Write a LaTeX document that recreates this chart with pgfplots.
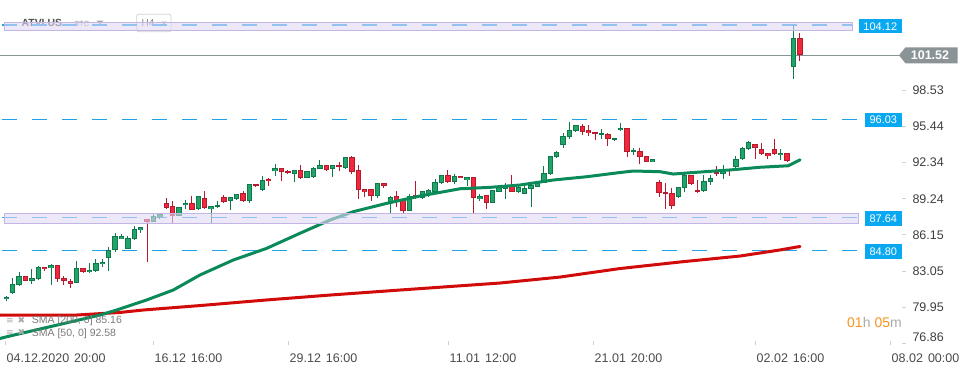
\documentclass[border=0pt]{standalone}
\usepackage{pgfplots}
\pgfplotsset{compat=1.18}
\usepackage{pgfplotstable}
\usepackage{fontspec}
\setmainfont{Liberation Sans}
\newfontfamily\dejavu{DejaVu Sans}
\definecolor{upfill}{HTML}{22A369}
\definecolor{upline}{HTML}{0E7A4C}
\definecolor{dnfill}{HTML}{F0283C}
\definecolor{dnline}{HTML}{B51B2E}
\definecolor{smagreen}{HTML}{0A8A58}
\definecolor{smared}{HTML}{D10A0A}
\definecolor{dashblue}{HTML}{1EA2EA}
\definecolor{lblue}{HTML}{0AA8F0}
\definecolor{zonefill}{HTML}{E0D8F3}
\definecolor{zoneline}{HTML}{C4B6E4}
\definecolor{pricegray}{HTML}{8A9497}
\definecolor{ticktext}{HTML}{3F3F3F}
\definecolor{xtext}{HTML}{4A4A4A}
\definecolor{tickgray}{HTML}{D0D0D0}
\definecolor{cdorange}{HTML}{F7941D}
\definecolor{cdgray}{HTML}{AAAAAA}
\definecolor{legtext}{HTML}{7A7A7A}

% rising candles: n open high low close
\pgfplotstableread{
n o h l c
1 80.64 80.94 80.52 80.86
2 81.20 82.46 81.09 81.92
3 81.83 82.97 81.77 82.63
5 82.23 83.23 81.95 82.46
6 82.35 83.51 82.33 83.38
8 83.29 83.63 81.86 83.55
12 82.06 83.91 82.01 83.32
14 82.95 83.74 82.86 83.14
15 83.03 84.09 83.01 83.72
16 83.63 84.09 83.43 83.83
17 84.15 85.09 83.08 84.86
18 84.83 86.29 84.71 86.03
19 85.82 86.23 85.82 86.03
20 84.92 86.06 84.90 85.86
21 85.77 86.89 85.75 86.63
22 86.54 86.82 86.29 86.80
24 87.28 87.94 87.26 87.74
25 87.68 87.93 87.49 87.91
28 87.77 88.53 87.75 88.51
29 88.68 89.14 88.39 88.88
31 88.34 89.47 88.32 89.45
33 88.34 88.62 87.19 88.60
34 88.51 89.03 88.43 88.68
36 89.03 89.39 88.31 89.37
37 89.20 89.65 89.18 89.63
39 89.03 90.50 88.85 90.48
41 89.97 91.17 89.95 90.82
43 91.59 92.19 91.17 91.85
46 91.34 91.70 90.70 91.68
48 91.00 91.61 90.98 91.59
49 91.08 91.94 91.06 91.85
50 91.77 92.54 91.75 92.11
52 91.77 92.13 91.13 92.11
54 91.90 92.81 91.82 92.79
59 89.51 90.59 89.33 90.57
61 88.85 89.51 88.05 89.42
64 88.22 89.63 88.20 89.51
66 89.28 89.90 89.20 89.88
67 89.65 90.10 89.42 89.99
68 89.85 90.91 89.83 90.68
69 90.57 91.27 90.55 91.25
71 90.70 91.34 90.53 91.19
73 90.82 91.10 90.36 91.08
75 89.25 89.63 89.08 89.45
77 88.91 90.01 88.89 89.99
78 89.85 90.24 89.83 90.22
79 90.10 90.57 89.25 90.45
81 89.85 90.45 89.71 90.28
82 89.68 90.57 89.66 90.14
83 90.05 90.65 88.56 90.45
84 90.28 90.59 90.26 90.57
85 90.59 92.05 90.57 91.42
86 91.34 92.90 91.32 92.88
87 92.79 93.31 92.71 93.22
88 93.82 94.85 93.56 94.59
89 94.51 95.79 94.33 95.10
90 95.02 95.55 95.00 95.53
94 94.68 95.19 94.33 94.85
96 94.25 94.44 94.16 94.42
97 95.10 95.70 95.08 95.28
99 93.22 93.56 92.96 93.39
102 92.37 92.64 92.35 92.62
106 89.37 90.24 89.35 90.22
107 90.14 91.42 89.80 91.25
110 89.88 91.25 89.86 90.74
111 90.65 91.25 90.40 91.00
113 91.34 92.11 90.91 91.71
115 91.94 92.88 91.59 92.62
116 92.62 93.65 92.54 93.56
117 93.48 94.16 93.39 94.08
122 92.96 93.48 92.54 93.14
124 100.55 104.15 99.50 102.98
}\upcandles

% falling candles: n open high low close
\pgfplotstableread{
n o h l c
4 82.60 82.65 82.18 82.23
7 83.38 83.40 83.08 83.20
9 83.55 83.57 82.14 82.35
10 82.46 82.63 81.89 82.23
11 82.20 82.35 81.63 81.97
13 83.29 83.31 82.86 83.00
23 87.49 87.50 83.85 87.28
26 88.88 89.28 88.34 88.48
27 88.60 89.03 87.06 87.74
30 88.85 89.48 88.24 88.26
32 89.28 89.91 88.41 88.43
35 89.37 89.54 88.91 88.99
38 89.71 89.91 89.00 89.08
40 90.48 90.50 90.22 90.31
42 90.94 91.05 90.36 90.74
44 91.85 91.87 90.79 91.51
45 91.59 91.68 91.40 91.42
47 91.68 92.13 90.91 91.00
51 92.11 92.13 91.66 91.68
53 92.11 92.37 91.59 91.94
55 92.79 92.88 91.34 91.56
56 91.68 92.11 89.25 89.97
57 90.05 90.07 89.42 89.85
58 90.05 90.07 89.08 89.51
60 90.57 90.59 90.19 90.36
62 89.45 89.91 88.56 88.97
63 89.11 89.13 88.05 88.22
65 89.54 90.79 89.20 89.37
70 91.25 91.68 90.62 90.70
72 91.19 91.21 90.98 91.00
74 91.08 91.10 88.05 89.33
76 89.54 89.56 88.39 88.91
80 90.45 91.25 89.83 89.85
91 95.47 95.64 94.68 94.98
92 95.10 95.53 94.59 94.85
93 94.93 94.95 94.25 94.76
95 94.76 94.85 93.79 94.33
98 95.28 95.30 92.79 93.22
100 93.31 93.56 92.19 92.79
101 92.88 92.90 92.35 92.37
103 90.65 90.82 89.42 89.71
104 89.80 90.57 88.39 89.63
105 89.71 90.14 88.34 88.65
108 91.25 91.27 90.46 90.48
109 89.97 90.82 89.71 89.80
112 91.51 92.02 91.17 91.34
114 91.77 91.79 91.17 91.62
118 93.91 93.93 92.62 93.56
119 93.48 93.99 93.03 93.05
120 93.14 93.16 92.62 92.88
121 93.48 94.33 93.03 93.05
123 93.14 93.16 92.43 92.45
125 102.98 103.41 101.06 101.52
}\dncandles

\pgfplotstableread{
n v
0.016 77.28
1.06 77.43
8.30 78.35
15.64 79.29
18.25 79.72
22.94 80.58
27.09 81.43
31.27 82.72
36.47 84.00
41.69 85.00
46.89 86.29
51.58 87.42
55.22 88.14
60.44 88.85
65.64 89.48
71.89 90.10
76.58 90.22
81.27 90.42
86.47 90.85
91.69 91.13
96.89 91.49
98.97 91.62
103.14 91.56
105.22 91.36
107.83 91.47
114.08 91.71
118.77 91.94
123.19 92.07
125.02 92.58
}\smafifty

\pgfplotstableread{
n v
0.016 79.29
12.0 79.29
18.77 79.51
22.41 79.72
31.27 80.10
41.69 80.58
51.58 81.00
62.52 81.43
78.14 82.03
87.52 82.54
96.89 83.27
106.27 83.83
115.64 84.34
121.89 84.86
125.02 85.16
}\smatwohundred

\pgfplotsset{
  wick/.style={draw=none, mark=none, forget plot,
    error bars/.cd, y dir=both, y explicit, error mark=none,
    error bar style={draw=#1, line width=1pt}},
  body/.style 2 args={draw=none, mark=none, forget plot,
    error bars/.cd, y dir=both, y explicit, error mark=none,
    error bar style={draw=#1, line width=#2, line cap=butt}},
  level/.style={draw=dashblue, line width=1.3pt, dash pattern=on 15pt off 15pt, forget plot},
}

\begin{document}
\begin{tikzpicture}
\useasboundingbox (0pt,0pt) rectangle (970pt,-368pt);
% header (under the zone)
\begin{scope}[x=1pt,y=-1pt]
\node[anchor=west, inner sep=0pt, text=black!68, font=\bfseries\fontsize{10.4}{12}\selectfont] at (21.5,23.3) {ATVI.US};
\node[anchor=west, inner sep=0pt, text=black!40, font=\fontsize{7.5}{9}\selectfont] at (74,24) {STC};
\fill[black!35] (96.5,20.5) -- (103.5,20.5) -- (100,24.5) -- cycle;
\draw[black!18, rounded corners=2pt, line width=0.8pt] (136.7,14.3) rectangle (171,31.7);
\node[anchor=west, inner sep=0pt, text=black!50, font=\fontsize{10}{12}\selectfont] at (141.5,23.3) {H4};
\fill[black!35] (161.5,21.5) -- (166.5,21.5) -- (164,24.5) -- cycle;
\end{scope}
\begin{axis}[
  at={(0pt,0pt)}, anchor=north west,
  scale only axis, width=902pt, height=345pt,
  xmin=0.0156, xmax=140.95, ymin=76.7227, ymax=106.2604,
  clip=false,
  axis x line*=bottom, axis y line*=right,
  axis line style={draw=none},
  tick align=outside, major tick length=4pt,
  ytick={98.53,95.44,92.34,89.24,86.15,83.05,79.95},
  yticklabels={98.53,95.44,92.34,89.24,86.15,83.05,79.95},
  extra y ticks={76.86}, extra y tick labels={76.86},
  extra y tick style={yticklabel style={yshift=6pt}},
  y tick label style={font=\fontsize{12.5}{14}\selectfont, text=ticktext, xshift=3pt},
  ytick style={draw=tickgray, line width=0.8pt},
  xtick={0.797,23.92,45.02,70.02,92.67,117.98,139.08},
  xticklabels={04.12.2020\hspace{5pt}20:00, 16.12\hspace{5pt}16:00, 29.12\hspace{5pt}16:00, 11.01\hspace{5pt}12:00, 21.01\hspace{5pt}20:00, 02.02\hspace{5pt}16:00, 08.02\hspace{5pt}00:00},
  x tick label style={font=\fontsize{12.5}{14}\selectfont, text=xtext, anchor=north west, inner xsep=0pt, xshift=1.5pt, yshift=-1pt},
  xtick style={draw=tickgray, line width=0.8pt, yshift=4pt},
]
% current price line
\addplot[pricegray, line width=0.8pt] coordinates {(0.0156,101.52) (140.48,101.52)};
% dashed levels
\addplot[level] coordinates {(0.33,104.12) (133.14,104.12)};
\addplot[level] coordinates {(0.33,96.03) (134.08,96.03)};
\addplot[level] coordinates {(0.33,87.64) (134.08,87.64)};
\addplot[level] coordinates {(0.33,84.80) (134.08,84.80)};
% wicks
\addplot[wick=upline] table[x=n, y expr={(\thisrow{h}+\thisrow{l})/2}, y error expr={(\thisrow{h}-\thisrow{l})/2}] {\upcandles};
\addplot[wick=dnline] table[x=n, y expr={(\thisrow{h}+\thisrow{l})/2}, y error expr={(\thisrow{h}-\thisrow{l})/2}] {\dncandles};
% bodies: outline then fill
\addplot[body={upline}{5.4pt}] table[x=n, y expr={(\thisrow{o}+\thisrow{c})/2}, y error expr={max(abs(\thisrow{c}-\thisrow{o})/2,0.07)}] {\upcandles};
\addplot[body={dnline}{5.4pt}] table[x=n, y expr={(\thisrow{o}+\thisrow{c})/2}, y error expr={max(abs(\thisrow{c}-\thisrow{o})/2,0.07)}] {\dncandles};
\addplot[body={upfill}{3.4pt}] table[x=n, y expr={(\thisrow{o}+\thisrow{c})/2}, y error expr={max(abs(\thisrow{c}-\thisrow{o})/2-0.0856,0)}] {\upcandles};
\addplot[body={dnfill}{3.4pt}] table[x=n, y expr={(\thisrow{o}+\thisrow{c})/2}, y error expr={max(abs(\thisrow{c}-\thisrow{o})/2-0.0856,0)}] {\dncandles};
% moving averages
\addplot[smared, line width=3pt, line join=round, line cap=round] table[x=n, y=v] {\smatwohundred};
\addplot[smagreen, line width=3pt, line join=round, line cap=round] table[x=n, y=v] {\smafifty};
% zones
\addplot[fill=zonefill, fill opacity=0.6, draw=zoneline, line width=0.9pt] coordinates {(0.64,103.63) (133.19,103.63) (133.19,104.35) (0.64,104.35)} -- cycle;
\addplot[fill=zonefill, fill opacity=0.6, draw=zoneline, line width=0.9pt] coordinates {(0.64,87.10) (134.16,87.10) (134.16,88.00) (0.64,88.00)} -- cycle;
\end{axis}
\begin{scope}[x=1pt,y=-1pt]
% level labels
\fill[lblue] (859,19) rectangle (901.7,33.3);
\node[text=white, inner sep=0pt, font=\fontsize{11}{12}\selectfont] at (880.3,26.3) {104.12};
\fill[lblue] (865,112.7) rectangle (901.7,127);
\node[text=white, inner sep=0pt, font=\fontsize{11}{12}\selectfont] at (883.3,120) {96.03};
\fill[lblue] (865,211) rectangle (901.7,225.7);
\node[text=white, inner sep=0pt, font=\fontsize{11}{12}\selectfont] at (883.3,218.5) {87.64};
\fill[lblue] (865,244.3) rectangle (901.7,258.7);
\node[text=white, inner sep=0pt, font=\fontsize{11}{12}\selectfont] at (883.3,251.6) {84.80};
% price label
\fill[pricegray] (899,55.3) -- (905.5,47.3) -- (957.7,47.3) -- (957.7,63.3) -- (905.5,63.3) -- cycle;
\node[text=white, inner sep=0pt, font=\bfseries\fontsize{12.5}{14}\selectfont] at (930,55.6) {101.52};
% legend
\node[anchor=west, inner sep=0pt, text=cdgray, font=\dejavu\fontsize{9}{10}\selectfont] at (6,320) {≡\hspace{4pt}✖};
\node[anchor=west, inner sep=0pt, text=legtext, font=\fontsize{10.5}{12}\selectfont] at (31.7,321) {SMA [200,\hspace{3pt}0] 85.16};
\node[anchor=west, inner sep=0pt, text=cdgray, font=\dejavu\fontsize{9}{10}\selectfont] at (6,332.5) {≡\hspace{4pt}✖};
\node[anchor=west, inner sep=0pt, text=legtext, font=\fontsize{10.5}{12}\selectfont] at (31.7,333.5) {SMA [50,\hspace{3pt}0] 92.58};
% countdown
\node[anchor=east, inner sep=0pt, font=\fontsize{14}{16}\selectfont] at (902,322.5) {\textcolor{cdorange}{01}\textcolor{cdgray}{h}\hspace{4pt}\textcolor{cdorange}{05}\textcolor{cdgray}{m}};
\end{scope}
\end{tikzpicture}
\end{document}
